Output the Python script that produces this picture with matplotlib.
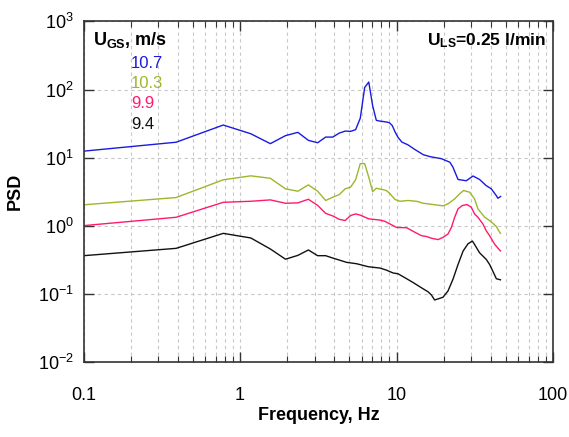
import numpy as np
import matplotlib
matplotlib.use('Agg')
import matplotlib.pyplot as plt
from matplotlib.ticker import LogLocator, NullLocator

plt.rcParams['font.family'] = ['Liberation Sans', 'DejaVu Sans']
plt.rcParams['mathtext.fontset'] = 'custom'
plt.rcParams['mathtext.rm'] = 'Liberation Sans'
plt.rcParams['mathtext.bf'] = 'Liberation Sans:bold'
plt.rcParams['mathtext.it'] = 'Liberation Sans:italic'

# --- data (frequency in Hz, PSD) ---
f_107 = [0.1, 0.39, 0.78, 1.17, 1.56, 1.95, 2.34, 2.73, 3.13, 3.52, 3.91, 4.3, 4.69, 5.08,
         5.47, 5.86, 6.25, 6.64, 7.03, 7.42, 7.81, 8.2, 8.59, 8.98, 9.38, 9.77, 10.2, 10.8,
         11.8, 13.1, 14.8, 16.3, 19.3, 21.9, 22.9, 24.7, 27.9, 30.8, 33.9, 37.4, 40.3, 43.3,
         44.4, 46.2]
p_107 = [12.5, 16.9, 30.2, 22.5, 16.1, 21.1, 23.6, 18.0, 16.6, 20.1, 20.1, 23.0, 24.6, 24.4,
         25.8, 38.0, 107, 129, 58.0, 35.4, 34.5, 34.0, 33.5, 32.7, 29.7, 24.0, 20.0, 17.0,
         15.5, 13.2, 11.1, 10.4, 9.7, 8.6, 7.3, 4.8, 4.6, 5.4, 4.8, 3.9, 3.5, 2.8,
         2.55, 2.7]

f_103 = [0.1, 0.39, 0.78, 1.17, 1.56, 1.95, 2.34, 2.73, 3.13, 3.52, 3.91, 4.3, 4.69, 5.08,
         5.47, 5.86, 6.25, 6.64, 7.03, 7.42, 8.2, 8.59, 8.98, 9.77, 10.5, 11.85, 13.4, 14.8,
         17.1, 19.8, 21.3, 23.5, 25.3, 26.8, 29.3, 31.5, 33.1, 36.6, 39.3, 41.3, 43.4, 45.6,
         46.1]
p_103 = [2.04, 2.61, 4.75, 5.43, 5.0, 3.5, 3.23, 4.0, 3.23, 2.36, 2.64, 2.88, 3.5, 3.7,
         4.74, 8.2, 8.2, 5.19, 3.19, 3.57, 3.4, 3.3, 3.05, 2.44, 2.3, 2.36, 2.3, 2.15,
         2.06, 1.97, 2.11, 2.49, 2.96, 3.31, 3.12, 2.49, 1.78, 1.34, 1.2, 1.09, 0.98, 0.805,
         0.78]

f_99 = [0.1, 0.39, 0.78, 1.17, 1.56, 1.95, 2.34, 2.73, 3.13, 3.52, 3.91, 4.3, 4.69, 5.08,
        5.47, 5.86, 6.64, 7.81, 8.4, 9.06, 10.0, 11.6, 12.8, 14.4, 15.5, 16.7, 18.4, 19.8,
        21.3, 22.4, 23.5, 24.7, 26.3, 28.2, 30.0, 31.5, 33.1, 35.6, 37.4, 39.3, 42.3, 45.6,
        46.1]
p_99 = [1.01, 1.34, 2.22, 2.3, 2.41, 2.15, 2.18, 2.46, 2.0, 1.53, 1.4, 1.25, 1.2, 1.42,
        1.5, 1.44, 1.27, 1.22, 1.17, 1.07, 0.95, 0.94, 0.83, 0.72, 0.70, 0.66, 0.63, 0.68,
        0.76, 0.95, 1.34, 1.78, 1.99, 2.06, 1.88, 1.5, 1.34, 1.07, 0.85, 0.72, 0.54, 0.44,
        0.43]

f_94 = [0.1, 0.39, 0.78, 1.17, 1.56, 1.95, 2.34, 2.73, 3.13, 3.52, 3.91, 4.8, 5.55, 6.6,
        7.83, 8.6, 9.5, 10.2, 11.3, 12.8, 14.4, 15.9, 16.7, 17.5, 18.4, 19.8, 21.3, 22.9,
        24.7, 26.6, 28.6, 30.5, 31.5, 33.9, 37.4, 39.3, 41.7, 43.4, 46.1]
p_94 = [0.366, 0.469, 0.778, 0.666, 0.459, 0.325, 0.37, 0.444, 0.366, 0.366, 0.338, 0.292,
        0.279, 0.252, 0.241, 0.225, 0.204, 0.199, 0.174, 0.147, 0.124, 0.108, 0.097, 0.082,
        0.085, 0.09, 0.111, 0.164, 0.272, 0.428, 0.547, 0.6, 0.535, 0.404, 0.323, 0.272,
        0.205, 0.168, 0.162]

labels = ['10.7', '10.3', '9.9', '9.4']
colors = ['#1a1ae0', '#9ab82a', '#ff1a6e', '#111111']

fig = plt.figure(figsize=(5.69, 4.37), dpi=100)
ax = fig.add_axes([0.147, 0.171, 0.825, 0.780])

series = [(f_107, p_107), (f_103, p_103), (f_99, p_99), (f_94, p_94)]
for (f, p), c in zip(series, colors):
    ax.plot(f, p, color=c, linewidth=1.0)

ax.set_xscale('log')
ax.set_yscale('log')
ax.set_xlim(0.1, 100)
ax.set_ylim(1e-2, 1e3)

ax.xaxis.set_minor_locator(LogLocator(base=10, subs=np.arange(2, 10)))
ax.yaxis.set_minor_locator(NullLocator())

ax.grid(True, which='major', color='#c8c8c8', linestyle=(0, (3, 3)), linewidth=0.8)
ax.grid(True, which='minor', axis='x', color='#c8c8c8', linestyle=(0, (3, 3)), linewidth=0.8)

ax.tick_params(which='both', direction='in', top=True, right=True, color='#333333')
ax.tick_params(which='major', length=7, width=1.0)
ax.tick_params(which='minor', length=4, width=0.8)
ax.tick_params(axis='x', which='major', pad=18, labelsize=13)
ax.tick_params(axis='y', which='major', pad=7, labelsize=13)
ax.set_xticks([0.1, 1, 10, 100])
ax.set_xticklabels(['0.1', '1', '10', '100'])

for s in ax.spines.values():
    s.set_color('#333333')
    s.set_linewidth(1.2)

ax.set_xlabel('Frequency, Hz', fontsize=13, fontweight='bold', labelpad=2)
ax.set_ylabel('PSD', fontsize=13, fontweight='bold', labelpad=10)

ax.text(0.02, 0.945, r'$\mathbf{U_{GS}}$, m/s', transform=ax.transAxes,
        fontsize=13, fontweight='bold', va='center', ha='left')
ax.text(0.985, 0.945, r'$\mathbf{U_{LS}}$=0.25 l/min', transform=ax.transAxes,
        fontsize=12.5, fontweight='bold', va='center', ha='right')

for i, (lab, c) in enumerate(zip(labels, colors)):
    ax.text(0.101, 0.877 - i * 0.0595, lab, transform=ax.transAxes, color=c,
            fontsize=12, va='center', ha='left')

fig.savefig('out.png', dpi=100)
